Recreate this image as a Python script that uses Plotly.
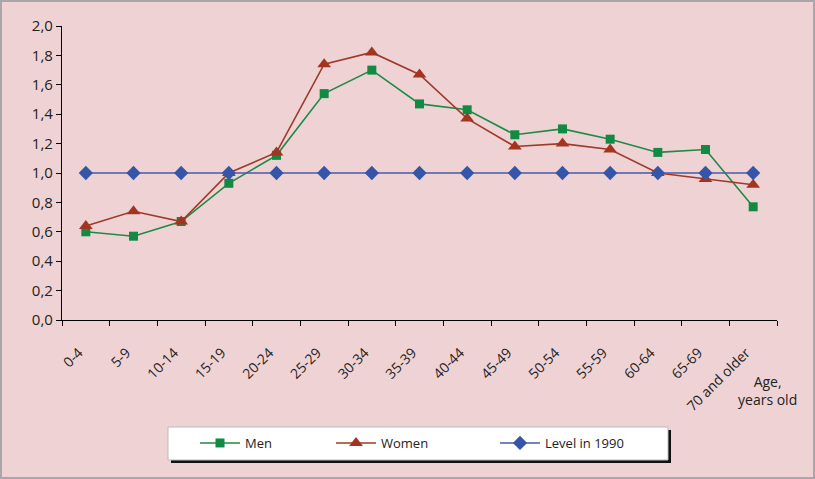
import plotly.graph_objects as go

ages = ["0-4", "5-9", "10-14", "15-19", "20-24", "25-29", "30-34", "35-39", "40-44",
        "45-49", "50-54", "55-59", "60-64", "65-69", "70 and older"]
men = [0.60, 0.57, 0.67, 0.93, 1.12, 1.54, 1.70, 1.47, 1.43, 1.26, 1.30, 1.23, 1.14, 1.16, 0.77]
women = [0.64, 0.74, 0.67, 1.00, 1.14, 1.74, 1.82, 1.67, 1.37, 1.18, 1.20, 1.16, 1.00, 0.96, 0.92]
level1990 = [1.0] * len(ages)

W, H = 815, 479
L, R, T, B = 62, 38, 26, 159
pw, ph = W - L - R, H - T - B

def px(x):
    return (x - L) / pw

def py(y):
    return (H - B - y) / ph

fig = go.Figure()
fig.add_trace(go.Scatter(x=ages, y=men, name="Men", mode="lines+markers",
                         line=dict(color="#1E8A47", width=1.6), legendwidth=81,
                         marker=dict(symbol="square", size=9, color="#138A44")))
fig.add_trace(go.Scatter(x=ages, y=women, name="Women", mode="lines+markers",
                         line=dict(color="#9E3A2A", width=1.6), legendwidth=109,
                         marker=dict(symbol="triangle-up", size=12, color="#A33520")))
fig.add_trace(go.Scatter(x=ages, y=level1990, name="Level in 1990", mode="lines+markers",
                         line=dict(color="#4A5AA8", width=1.6),
                         marker=dict(symbol="diamond", size=11, color="#3556A8")))

shapes = [
    # legend shadow and box
    dict(type="rect", xref="paper", yref="paper", x0=px(171), x1=px(671), y0=py(463), y1=py(430),
         fillcolor="#111111", line=dict(width=0), layer="below"),
    dict(type="rect", xref="paper", yref="paper", x0=px(168), x1=px(668), y0=py(460), y1=py(427),
         fillcolor="white", line=dict(color="#BBBBBB", width=1), layer="below"),
    # outer frame
    dict(type="rect", xref="paper", yref="paper", x0=px(1), x1=px(W - 1), y0=py(H - 1), y1=py(1),
         fillcolor="rgba(0,0,0,0)", line=dict(color="#A8A8A8", width=2)),
]

fig.update_layout(
    width=W, height=H,
    margin=dict(l=L, r=R, t=T, b=B, autoexpand=False),
    paper_bgcolor="#EFD3D4", plot_bgcolor="#EFD3D4",
    font=dict(family="Open Sans, Liberation Sans, sans-serif", color="#222222", size=12),
    separators=", ",
    showlegend=True,
    legend=dict(orientation="h", x=px(195), y=py(443), yanchor="middle", xanchor="left",
                bgcolor="rgba(0,0,0,0)", font=dict(size=13, color="#222222"),
                itemwidth=40, traceorder="normal"),
    shapes=shapes,
    annotations=[dict(text="Age,<br>years old", xref="paper", yref="paper",
                      x=px(767), y=py(390), xanchor="center", yanchor="middle",
                      showarrow=False, align="center",
                      font=dict(size=14, color="#222222"))],
)
fig.update_xaxes(type="category", range=[-0.5, len(ages) - 0.5],
                 showline=True, linecolor="black", linewidth=1.2,
                 ticks="outside", tickson="boundaries", ticklen=5, tickcolor="black",
                 tickangle=-45, showgrid=False, zeroline=False, automargin=False,
                 ticklabelstandoff=18, ticklabelshift=-7,
                 tickfont=dict(size=14, color="#222222"))
fig.update_yaxes(range=[0, 2.0], dtick=0.2, tickformat=".1f", showline=True,
                 linecolor="black", linewidth=1.2, ticks="outside", ticklen=5,
                 tickcolor="black", showgrid=False, zeroline=False, automargin=False,
                 tickfont=dict(size=15, color="#222222"))

fig.write_html("out.html", config={"displayModeBar": False},
               post_script="document.body.style.margin='0';document.body.style.overflow='hidden';")
